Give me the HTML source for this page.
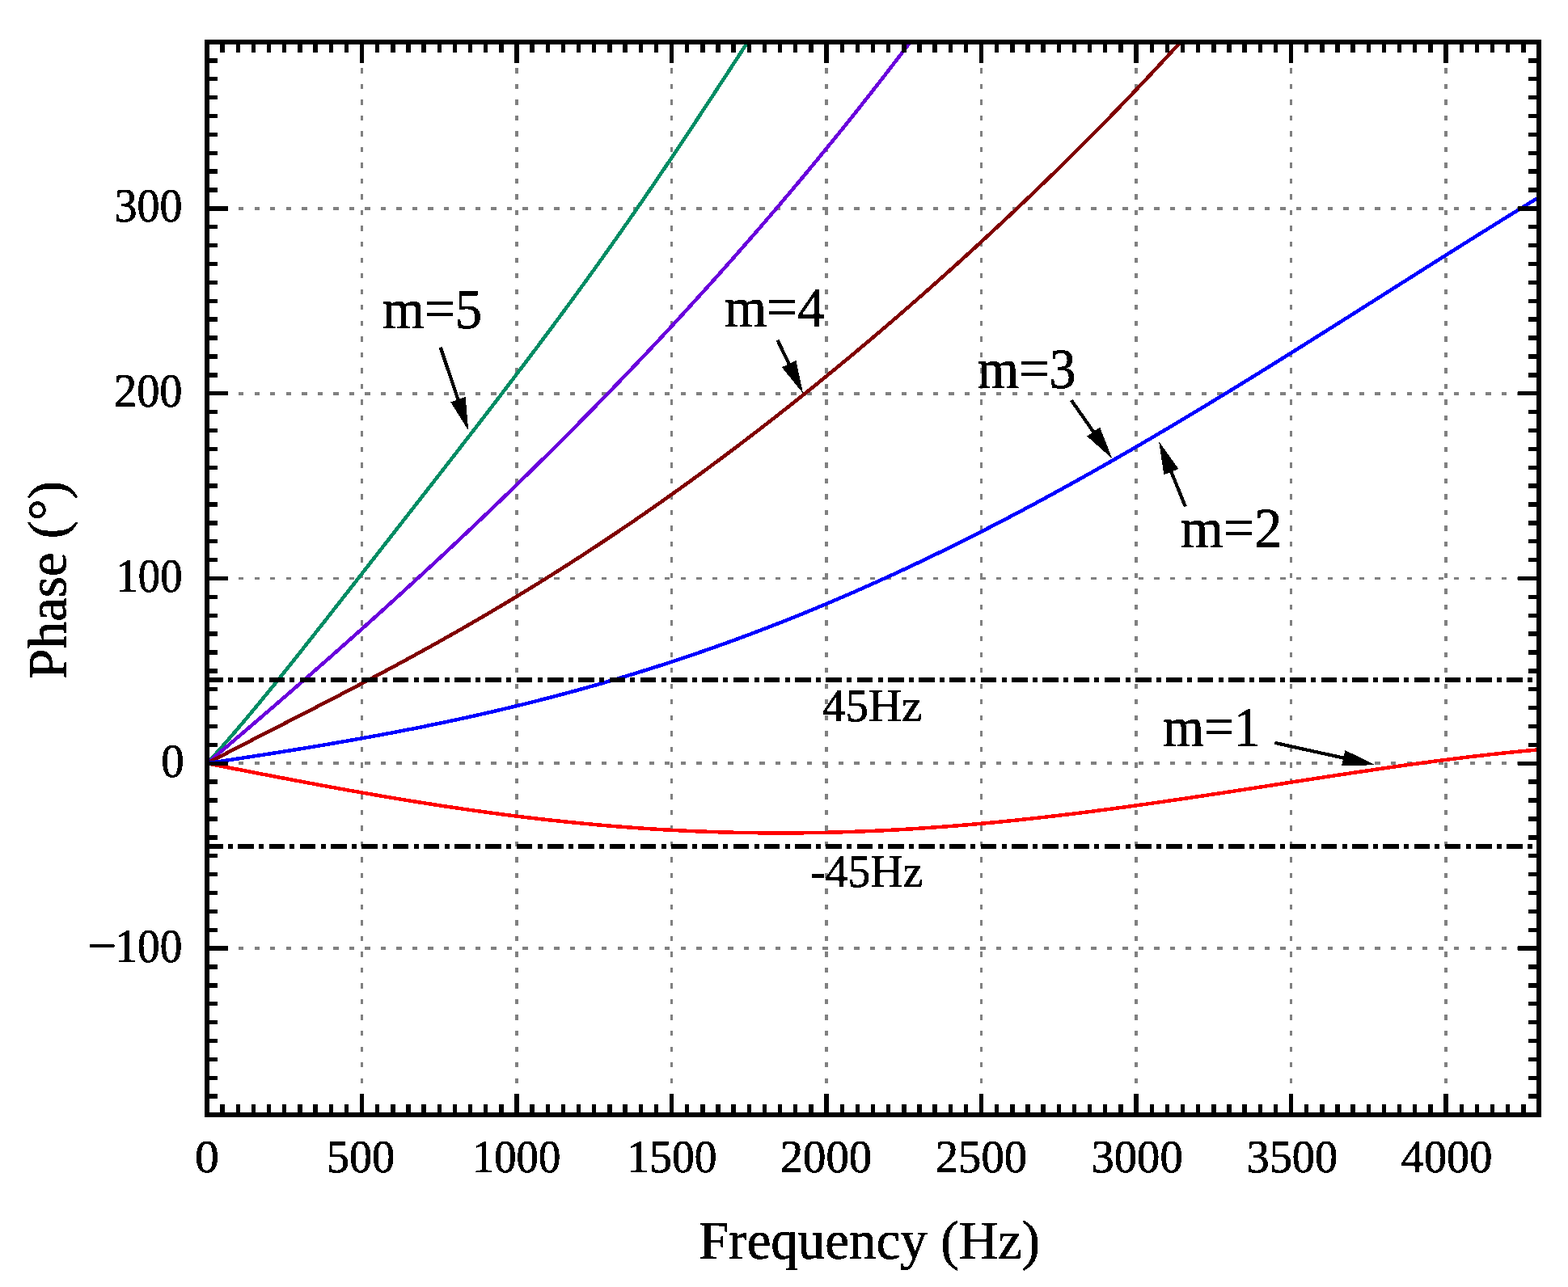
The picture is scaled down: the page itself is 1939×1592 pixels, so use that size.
<!DOCTYPE html>
<html><head><meta charset="utf-8"><title>Phase vs Frequency</title>
<style>
html,body{margin:0;padding:0;background:#fff;}
body{width:1939px;height:1592px;overflow:hidden;}
svg{display:block;}
text{font-family:"Liberation Serif","Times New Roman",serif;fill:#000;}
</style></head><body>
<svg width="1939" height="1592" viewBox="0 0 1939 1592">
<rect x="0" y="0" width="1939" height="1592" fill="#fff"/>
<defs><filter id="bin" filterUnits="userSpaceOnUse" x="0" y="0" width="1939" height="1592" color-interpolation-filters="sRGB"><feComponentTransfer><feFuncA type="discrete" tableValues="0 1"/></feComponentTransfer></filter><clipPath id="ax"><rect x="256.0" y="52.0" width="1647.0" height="1327.0"/></clipPath></defs>

<g stroke="#808080" stroke-width="3.8" stroke-dasharray="6.4 13.12" fill="none" shape-rendering="crispEdges">
<line x1="447.51" y1="1379.0" x2="447.51" y2="52.0"/>
<line x1="639.02" y1="1379.0" x2="639.02" y2="52.0"/>
<line x1="830.53" y1="1379.0" x2="830.53" y2="52.0"/>
<line x1="1022.05" y1="1379.0" x2="1022.05" y2="52.0"/>
<line x1="1213.56" y1="1379.0" x2="1213.56" y2="52.0"/>
<line x1="1405.07" y1="1379.0" x2="1405.07" y2="52.0"/>
<line x1="1596.58" y1="1379.0" x2="1596.58" y2="52.0"/>
<line x1="1788.09" y1="1379.0" x2="1788.09" y2="52.0"/>
<line x1="256.0" y1="1173.09" x2="1903.0" y2="1173.09"/>
<line x1="256.0" y1="944.29" x2="1903.0" y2="944.29"/>
<line x1="256.0" y1="715.50" x2="1903.0" y2="715.50"/>
<line x1="256.0" y1="486.71" x2="1903.0" y2="486.71"/>
<line x1="256.0" y1="257.91" x2="1903.0" y2="257.91"/>
</g>
<g clip-path="url(#ax)" fill="none" stroke-width="4.5" stroke-linejoin="round" shape-rendering="crispEdges">
<path d="M256.00,944.29 L258.75,941.30 L261.50,938.29 L264.25,935.26 L267.00,932.21 L269.75,929.14 L272.50,926.05 L275.25,922.94 L278.00,919.82 L280.75,916.68 L283.50,913.52 L286.25,910.35 L288.99,907.16 L291.74,903.96 L294.49,900.74 L297.24,897.51 L299.99,894.26 L302.74,891.01 L305.49,887.74 L308.24,884.45 L310.99,881.16 L313.74,877.85 L316.49,874.54 L319.24,871.21 L321.99,867.87 L324.74,864.53 L327.49,861.17 L330.24,857.81 L332.99,854.43 L335.74,851.05 L338.49,847.66 L341.24,844.26 L343.99,840.86 L346.74,837.45 L349.49,834.03 L352.24,830.61 L354.98,827.17 L357.73,823.74 L360.48,820.30 L363.23,816.85 L365.98,813.40 L368.73,809.94 L371.48,806.48 L374.23,803.01 L376.98,799.54 L379.73,796.06 L382.48,792.59 L385.23,789.10 L387.98,785.62 L390.73,782.13 L393.48,778.64 L396.23,775.15 L398.98,771.65 L401.73,768.15 L404.48,764.65 L407.23,761.15 L409.98,757.64 L412.73,754.14 L415.48,750.63 L418.23,747.12 L420.97,743.61 L423.72,740.10 L426.47,736.58 L429.22,733.07 L431.97,729.55 L434.72,726.04 L437.47,722.52 L440.22,719.00 L442.97,715.48 L445.72,711.96 L448.47,708.44 L451.22,704.92 L453.97,701.40 L456.72,697.88 L459.47,694.36 L462.22,690.84 L464.97,687.32 L467.72,683.79 L470.47,680.27 L473.22,676.75 L475.97,673.23 L478.72,669.70 L481.47,666.18 L484.22,662.66 L486.96,659.13 L489.71,655.61 L492.46,652.09 L495.21,648.56 L497.96,645.04 L500.71,641.52 L503.46,637.99 L506.21,634.47 L508.96,630.94 L511.71,627.42 L514.46,623.89 L517.21,620.37 L519.96,616.84 L522.71,613.31 L525.46,609.79 L528.21,606.26 L530.96,602.73 L533.71,599.20 L536.46,595.67 L539.21,592.14 L541.96,588.61 L544.71,585.08 L547.46,581.55 L550.21,578.01 L552.95,574.48 L555.70,570.94 L558.45,567.40 L561.20,563.86 L563.95,560.32 L566.70,556.78 L569.45,553.23 L572.20,549.69 L574.95,546.14 L577.70,542.59 L580.45,539.04 L583.20,535.48 L585.95,531.93 L588.70,528.37 L591.45,524.81 L594.20,521.24 L596.95,517.68 L599.70,514.11 L602.45,510.54 L605.20,506.96 L607.95,503.38 L610.70,499.80 L613.45,496.22 L616.20,492.63 L618.94,489.04 L621.69,485.45 L624.44,481.85 L627.19,478.25 L629.94,474.64 L632.69,471.03 L635.44,467.41 L638.19,463.80 L640.94,460.17 L643.69,456.55 L646.44,452.91 L649.19,449.28 L651.94,445.64 L654.69,441.99 L657.44,438.34 L660.19,434.68 L662.94,431.02 L665.69,427.35 L668.44,423.68 L671.19,420.00 L673.94,416.32 L676.69,412.63 L679.44,408.94 L682.19,405.24 L684.93,401.53 L687.68,397.82 L690.43,394.10 L693.18,390.37 L695.93,386.64 L698.68,382.90 L701.43,379.16 L704.18,375.41 L706.93,371.65 L709.68,367.89 L712.43,364.12 L715.18,360.34 L717.93,356.55 L720.68,352.76 L723.43,348.96 L726.18,345.15 L728.93,341.34 L731.68,337.52 L734.43,333.69 L737.18,329.85 L739.93,326.01 L742.68,322.16 L745.43,318.30 L748.18,314.44 L750.92,310.56 L753.67,306.68 L756.42,302.79 L759.17,298.90 L761.92,294.99 L764.67,291.08 L767.42,287.16 L770.17,283.23 L772.92,279.30 L775.67,275.35 L778.42,271.40 L781.17,267.45 L783.92,263.48 L786.67,259.51 L789.42,255.52 L792.17,251.53 L794.92,247.54 L797.67,243.53 L800.42,239.52 L803.17,235.50 L805.92,231.47 L808.67,227.44 L811.42,223.39 L814.17,219.35 L816.91,215.29 L819.66,211.22 L822.41,207.15 L825.16,203.07 L827.91,198.99 L830.66,194.90 L833.41,190.80 L836.16,186.69 L838.91,182.58 L841.66,178.46 L844.41,174.34 L847.16,170.21 L849.91,166.07 L852.66,161.93 L855.41,157.78 L858.16,153.62 L860.91,149.46 L863.66,145.30 L866.41,141.13 L869.16,136.95 L871.91,132.77 L874.66,128.59 L877.41,124.40 L880.16,120.21 L882.90,116.01 L885.65,111.81 L888.40,107.61 L891.15,103.40 L893.90,99.19 L896.65,94.98 L899.40,90.76 L902.15,86.54 L904.90,82.32 L907.65,78.10 L910.40,73.88 L913.15,69.66 L915.90,65.43 L918.65,61.21 L921.40,56.98 L924.15,52.76 L926.90,48.53 L929.65,44.31 L932.40,40.09" stroke="#008C64"/>
<path d="M256.00,944.29 L258.75,941.96 L261.50,939.63 L264.25,937.30 L267.00,934.97 L269.75,932.64 L272.50,930.30 L275.25,927.96 L278.00,925.63 L280.75,923.29 L283.50,920.95 L286.25,918.60 L288.99,916.26 L291.74,913.91 L294.49,911.57 L297.24,909.22 L299.99,906.87 L302.74,904.51 L305.49,902.16 L308.24,899.81 L310.99,897.45 L313.74,895.09 L316.49,892.73 L319.24,890.37 L321.99,888.00 L324.74,885.64 L327.49,883.27 L330.24,880.90 L332.99,878.53 L335.74,876.16 L338.49,873.78 L341.24,871.41 L343.99,869.03 L346.74,866.65 L349.49,864.27 L352.24,861.88 L354.98,859.50 L357.73,857.11 L360.48,854.72 L363.23,852.33 L365.98,849.93 L368.73,847.54 L371.48,845.14 L374.23,842.74 L376.98,840.34 L379.73,837.93 L382.48,835.53 L385.23,833.12 L387.98,830.71 L390.73,828.30 L393.48,825.88 L396.23,823.46 L398.98,821.05 L401.73,818.62 L404.48,816.20 L407.23,813.78 L409.98,811.35 L412.73,808.92 L415.48,806.48 L418.23,804.05 L420.97,801.61 L423.72,799.17 L426.47,796.73 L429.22,794.29 L431.97,791.84 L434.72,789.39 L437.47,786.94 L440.22,784.48 L442.97,782.03 L445.72,779.57 L448.47,777.11 L451.22,774.64 L453.97,772.18 L456.72,769.71 L459.47,767.24 L462.22,764.76 L464.97,762.29 L467.72,759.81 L470.47,757.33 L473.22,754.84 L475.97,752.35 L478.72,749.86 L481.47,747.37 L484.22,744.88 L486.96,742.38 L489.71,739.88 L492.46,737.37 L495.21,734.87 L497.96,732.36 L500.71,729.85 L503.46,727.33 L506.21,724.82 L508.96,722.30 L511.71,719.77 L514.46,717.25 L517.21,714.72 L519.96,712.19 L522.71,709.65 L525.46,707.11 L528.21,704.57 L530.96,702.03 L533.71,699.48 L536.46,696.93 L539.21,694.38 L541.96,691.83 L544.71,689.27 L547.46,686.71 L550.21,684.14 L552.95,681.57 L555.70,679.00 L558.45,676.43 L561.20,673.85 L563.95,671.27 L566.70,668.69 L569.45,666.10 L572.20,663.51 L574.95,660.92 L577.70,658.32 L580.45,655.72 L583.20,653.12 L585.95,650.52 L588.70,647.91 L591.45,645.29 L594.20,642.68 L596.95,640.06 L599.70,637.44 L602.45,634.81 L605.20,632.18 L607.95,629.55 L610.70,626.91 L613.45,624.27 L616.20,621.63 L618.94,618.98 L621.69,616.33 L624.44,613.68 L627.19,611.02 L629.94,608.36 L632.69,605.70 L635.44,603.03 L638.19,600.36 L640.94,597.68 L643.69,595.00 L646.44,592.32 L649.19,589.63 L651.94,586.94 L654.69,584.25 L657.44,581.55 L660.19,578.85 L662.94,576.15 L665.69,573.44 L668.44,570.73 L671.19,568.01 L673.94,565.29 L676.69,562.57 L679.44,559.84 L682.19,557.11 L684.93,554.37 L687.68,551.64 L690.43,548.89 L693.18,546.15 L695.93,543.39 L698.68,540.64 L701.43,537.88 L704.18,535.12 L706.93,532.35 L709.68,529.58 L712.43,526.81 L715.18,524.03 L717.93,521.24 L720.68,518.46 L723.43,515.67 L726.18,512.87 L728.93,510.07 L731.68,507.27 L734.43,504.46 L737.18,501.65 L739.93,498.83 L742.68,496.01 L745.43,493.18 L748.18,490.35 L750.92,487.52 L753.67,484.68 L756.42,481.84 L759.17,478.99 L761.92,476.14 L764.67,473.29 L767.42,470.43 L770.17,467.56 L772.92,464.70 L775.67,461.82 L778.42,458.94 L781.17,456.06 L783.92,453.18 L786.67,450.28 L789.42,447.39 L792.17,444.49 L794.92,441.58 L797.67,438.67 L800.42,435.76 L803.17,432.84 L805.92,429.92 L808.67,426.99 L811.42,424.06 L814.17,421.12 L816.91,418.17 L819.66,415.23 L822.41,412.28 L825.16,409.32 L827.91,406.36 L830.66,403.39 L833.41,400.42 L836.16,397.44 L838.91,394.46 L841.66,391.47 L844.41,388.48 L847.16,385.49 L849.91,382.48 L852.66,379.48 L855.41,376.47 L858.16,373.45 L860.91,370.43 L863.66,367.40 L866.41,364.37 L869.16,361.33 L871.91,358.29 L874.66,355.24 L877.41,352.19 L880.16,349.13 L882.90,346.07 L885.65,343.00 L888.40,339.93 L891.15,336.85 L893.90,333.76 L896.65,330.67 L899.40,327.58 L902.15,324.48 L904.90,321.37 L907.65,318.26 L910.40,315.14 L913.15,312.02 L915.90,308.89 L918.65,305.76 L921.40,302.62 L924.15,299.47 L926.90,296.32 L929.65,293.17 L932.40,290.00 L935.15,286.84 L937.90,283.66 L940.65,280.48 L943.40,277.30 L946.15,274.11 L948.89,270.91 L951.64,267.71 L954.39,264.50 L957.14,261.29 L959.89,258.07 L962.64,254.84 L965.39,251.61 L968.14,248.37 L970.89,245.13 L973.64,241.88 L976.39,238.62 L979.14,235.36 L981.89,232.09 L984.64,228.82 L987.39,225.54 L990.14,222.25 L992.89,218.96 L995.64,215.66 L998.39,212.35 L1001.14,209.04 L1003.89,205.72 L1006.64,202.40 L1009.39,199.07 L1012.14,195.73 L1014.88,192.39 L1017.63,189.04 L1020.38,185.68 L1023.13,182.32 L1025.88,178.95 L1028.63,175.57 L1031.38,172.19 L1034.13,168.80 L1036.88,165.40 L1039.63,162.00 L1042.38,158.59 L1045.13,155.17 L1047.88,151.75 L1050.63,148.32 L1053.38,144.88 L1056.13,141.44 L1058.88,137.99 L1061.63,134.53 L1064.38,131.07 L1067.13,127.59 L1069.88,124.12 L1072.63,120.63 L1075.38,117.14 L1078.13,113.64 L1080.87,110.13 L1083.62,106.62 L1086.37,103.10 L1089.12,99.57 L1091.87,96.03 L1094.62,92.49 L1097.37,88.94 L1100.12,85.38 L1102.87,81.82 L1105.62,78.25 L1108.37,74.67 L1111.12,71.08 L1113.87,67.49 L1116.62,63.89 L1119.37,60.28 L1122.12,56.66 L1124.87,53.03 L1127.62,49.40 L1130.37,45.76 L1133.12,42.11 L1135.87,38.46" stroke="#6A00DC"/>
<path d="M256.00,944.29 L258.75,942.85 L261.50,941.41 L264.25,939.97 L267.00,938.53 L269.75,937.09 L272.50,935.66 L275.25,934.23 L278.00,932.80 L280.75,931.37 L283.50,929.95 L286.25,928.52 L288.99,927.10 L291.74,925.68 L294.49,924.26 L297.24,922.84 L299.99,921.43 L302.74,920.01 L305.49,918.60 L308.24,917.18 L310.99,915.77 L313.74,914.36 L316.49,912.95 L319.24,911.54 L321.99,910.13 L324.74,908.72 L327.49,907.32 L330.24,905.91 L332.99,904.50 L335.74,903.09 L338.49,901.69 L341.24,900.28 L343.99,898.87 L346.74,897.47 L349.49,896.06 L352.24,894.66 L354.98,893.25 L357.73,891.84 L360.48,890.44 L363.23,889.03 L365.98,887.62 L368.73,886.21 L371.48,884.80 L374.23,883.39 L376.98,881.98 L379.73,880.57 L382.48,879.16 L385.23,877.75 L387.98,876.34 L390.73,874.92 L393.48,873.51 L396.23,872.09 L398.98,870.67 L401.73,869.26 L404.48,867.84 L407.23,866.41 L409.98,864.99 L412.73,863.57 L415.48,862.14 L418.23,860.72 L420.97,859.29 L423.72,857.86 L426.47,856.43 L429.22,855.00 L431.97,853.56 L434.72,852.12 L437.47,850.69 L440.22,849.25 L442.97,847.80 L445.72,846.36 L448.47,844.91 L451.22,843.47 L453.97,842.02 L456.72,840.56 L459.47,839.11 L462.22,837.65 L464.97,836.19 L467.72,834.73 L470.47,833.27 L473.22,831.80 L475.97,830.33 L478.72,828.86 L481.47,827.39 L484.22,825.91 L486.96,824.44 L489.71,822.96 L492.46,821.47 L495.21,819.99 L497.96,818.50 L500.71,817.00 L503.46,815.51 L506.21,814.01 L508.96,812.51 L511.71,811.01 L514.46,809.50 L517.21,807.99 L519.96,806.48 L522.71,804.97 L525.46,803.45 L528.21,801.93 L530.96,800.40 L533.71,798.88 L536.46,797.35 L539.21,795.81 L541.96,794.28 L544.71,792.74 L547.46,791.19 L550.21,789.65 L552.95,788.10 L555.70,786.54 L558.45,784.99 L561.20,783.43 L563.95,781.86 L566.70,780.30 L569.45,778.73 L572.20,777.15 L574.95,775.57 L577.70,773.99 L580.45,772.41 L583.20,770.82 L585.95,769.23 L588.70,767.63 L591.45,766.04 L594.20,764.43 L596.95,762.83 L599.70,761.22 L602.45,759.60 L605.20,757.99 L607.95,756.37 L610.70,754.74 L613.45,753.11 L616.20,751.48 L618.94,749.84 L621.69,748.20 L624.44,746.56 L627.19,744.91 L629.94,743.26 L632.69,741.61 L635.44,739.95 L638.19,738.28 L640.94,736.62 L643.69,734.94 L646.44,733.27 L649.19,731.59 L651.94,729.91 L654.69,728.22 L657.44,726.53 L660.19,724.83 L662.94,723.13 L665.69,721.43 L668.44,719.72 L671.19,718.01 L673.94,716.30 L676.69,714.58 L679.44,712.85 L682.19,711.13 L684.93,709.40 L687.68,707.66 L690.43,705.92 L693.18,704.18 L695.93,702.43 L698.68,700.68 L701.43,698.92 L704.18,697.16 L706.93,695.39 L709.68,693.62 L712.43,691.85 L715.18,690.07 L717.93,688.29 L720.68,686.51 L723.43,684.72 L726.18,682.92 L728.93,681.12 L731.68,679.32 L734.43,677.51 L737.18,675.70 L739.93,673.89 L742.68,672.07 L745.43,670.25 L748.18,668.42 L750.92,666.59 L753.67,664.75 L756.42,662.91 L759.17,661.06 L761.92,659.21 L764.67,657.36 L767.42,655.50 L770.17,653.64 L772.92,651.77 L775.67,649.90 L778.42,648.03 L781.17,646.15 L783.92,644.27 L786.67,642.38 L789.42,640.49 L792.17,638.59 L794.92,636.69 L797.67,634.79 L800.42,632.88 L803.17,630.97 L805.92,629.05 L808.67,627.13 L811.42,625.20 L814.17,623.27 L816.91,621.34 L819.66,619.40 L822.41,617.46 L825.16,615.51 L827.91,613.56 L830.66,611.60 L833.41,609.64 L836.16,607.68 L838.91,605.71 L841.66,603.74 L844.41,601.76 L847.16,599.78 L849.91,597.80 L852.66,595.81 L855.41,593.81 L858.16,591.81 L860.91,589.81 L863.66,587.81 L866.41,585.80 L869.16,583.78 L871.91,581.76 L874.66,579.74 L877.41,577.71 L880.16,575.68 L882.90,573.64 L885.65,571.60 L888.40,569.56 L891.15,567.51 L893.90,565.46 L896.65,563.40 L899.40,561.34 L902.15,559.28 L904.90,557.21 L907.65,555.13 L910.40,553.06 L913.15,550.98 L915.90,548.89 L918.65,546.80 L921.40,544.71 L924.15,542.61 L926.90,540.50 L929.65,538.40 L932.40,536.29 L935.15,534.17 L937.90,532.05 L940.65,529.93 L943.40,527.80 L946.15,525.67 L948.89,523.54 L951.64,521.40 L954.39,519.25 L957.14,517.11 L959.89,514.95 L962.64,512.80 L965.39,510.64 L968.14,508.48 L970.89,506.31 L973.64,504.13 L976.39,501.96 L979.14,499.78 L981.89,497.59 L984.64,495.41 L987.39,493.21 L990.14,491.02 L992.89,488.82 L995.64,486.61 L998.39,484.40 L1001.14,482.19 L1003.89,479.97 L1006.64,477.75 L1009.39,475.53 L1012.14,473.30 L1014.88,471.07 L1017.63,468.83 L1020.38,466.59 L1023.13,464.34 L1025.88,462.09 L1028.63,459.84 L1031.38,457.58 L1034.13,455.32 L1036.88,453.06 L1039.63,450.79 L1042.38,448.51 L1045.13,446.24 L1047.88,443.96 L1050.63,441.67 L1053.38,439.38 L1056.13,437.09 L1058.88,434.79 L1061.63,432.49 L1064.38,430.18 L1067.13,427.87 L1069.88,425.56 L1072.63,423.24 L1075.38,420.92 L1078.13,418.60 L1080.87,416.27 L1083.62,413.93 L1086.37,411.60 L1089.12,409.25 L1091.87,406.91 L1094.62,404.56 L1097.37,402.20 L1100.12,399.85 L1102.87,397.48 L1105.62,395.12 L1108.37,392.75 L1111.12,390.38 L1113.87,388.00 L1116.62,385.62 L1119.37,383.23 L1122.12,380.84 L1124.87,378.44 L1127.62,376.05 L1130.37,373.64 L1133.12,371.24 L1135.87,368.83 L1138.62,366.41 L1141.37,363.99 L1144.12,361.57 L1146.86,359.14 L1149.61,356.71 L1152.36,354.28 L1155.11,351.84 L1157.86,349.39 L1160.61,346.95 L1163.36,344.49 L1166.11,342.04 L1168.86,339.58 L1171.61,337.11 L1174.36,334.65 L1177.11,332.17 L1179.86,329.70 L1182.61,327.21 L1185.36,324.73 L1188.11,322.24 L1190.86,319.75 L1193.61,317.25 L1196.36,314.74 L1199.11,312.24 L1201.86,309.73 L1204.61,307.21 L1207.36,304.69 L1210.11,302.17 L1212.85,299.64 L1215.60,297.11 L1218.35,294.57 L1221.10,292.03 L1223.85,289.48 L1226.60,286.93 L1229.35,284.38 L1232.10,281.82 L1234.85,279.25 L1237.60,276.69 L1240.35,274.11 L1243.10,271.54 L1245.85,268.95 L1248.60,266.37 L1251.35,263.78 L1254.10,261.18 L1256.85,258.58 L1259.60,255.98 L1262.35,253.37 L1265.10,250.75 L1267.85,248.13 L1270.60,245.51 L1273.35,242.88 L1276.10,240.25 L1278.84,237.61 L1281.59,234.97 L1284.34,232.32 L1287.09,229.67 L1289.84,227.01 L1292.59,224.35 L1295.34,221.68 L1298.09,219.01 L1300.84,216.33 L1303.59,213.65 L1306.34,210.96 L1309.09,208.27 L1311.84,205.58 L1314.59,202.87 L1317.34,200.17 L1320.09,197.45 L1322.84,194.74 L1325.59,192.01 L1328.34,189.28 L1331.09,186.55 L1333.84,183.81 L1336.59,181.07 L1339.34,178.32 L1342.09,175.56 L1344.83,172.80 L1347.58,170.04 L1350.33,167.27 L1353.08,164.49 L1355.83,161.71 L1358.58,158.92 L1361.33,156.13 L1364.08,153.33 L1366.83,150.52 L1369.58,147.71 L1372.33,144.89 L1375.08,142.07 L1377.83,139.24 L1380.58,136.41 L1383.33,133.57 L1386.08,130.72 L1388.83,127.87 L1391.58,125.01 L1394.33,122.15 L1397.08,119.28 L1399.83,116.40 L1402.58,113.52 L1405.33,110.63 L1408.08,107.73 L1410.82,104.83 L1413.57,101.92 L1416.32,99.00 L1419.07,96.08 L1421.82,93.15 L1424.57,90.22 L1427.32,87.28 L1430.07,84.33 L1432.82,81.37 L1435.57,78.41 L1438.32,75.44 L1441.07,72.47 L1443.82,69.49 L1446.57,66.50 L1449.32,63.50 L1452.07,60.49 L1454.82,57.48 L1457.57,54.47 L1460.32,51.44 L1463.07,48.41 L1465.82,45.37 L1468.57,42.32 L1471.32,39.26" stroke="#800000"/>
<path d="M256.00,944.29 L258.75,943.88 L261.50,943.46 L264.25,943.05 L267.00,942.63 L269.75,942.21 L272.50,941.80 L275.25,941.38 L278.00,940.96 L280.75,940.55 L283.50,940.13 L286.25,939.71 L288.99,939.29 L291.74,938.87 L294.49,938.45 L297.24,938.02 L299.99,937.60 L302.74,937.18 L305.49,936.75 L308.24,936.33 L310.99,935.90 L313.74,935.48 L316.49,935.05 L319.24,934.62 L321.99,934.20 L324.74,933.77 L327.49,933.34 L330.24,932.90 L332.99,932.47 L335.74,932.04 L338.49,931.60 L341.24,931.17 L343.99,930.73 L346.74,930.29 L349.49,929.85 L352.24,929.41 L354.98,928.97 L357.73,928.53 L360.48,928.09 L363.23,927.64 L365.98,927.20 L368.73,926.75 L371.48,926.30 L374.23,925.85 L376.98,925.40 L379.73,924.94 L382.48,924.49 L385.23,924.04 L387.98,923.58 L390.73,923.12 L393.48,922.66 L396.23,922.20 L398.98,921.73 L401.73,921.27 L404.48,920.80 L407.23,920.34 L409.98,919.87 L412.73,919.40 L415.48,918.92 L418.23,918.45 L420.97,917.97 L423.72,917.49 L426.47,917.01 L429.22,916.53 L431.97,916.05 L434.72,915.56 L437.47,915.08 L440.22,914.59 L442.97,914.10 L445.72,913.61 L448.47,913.11 L451.22,912.62 L453.97,912.12 L456.72,911.62 L459.47,911.12 L462.22,910.61 L464.97,910.10 L467.72,909.60 L470.47,909.09 L473.22,908.57 L475.97,908.06 L478.72,907.54 L481.47,907.02 L484.22,906.50 L486.96,905.98 L489.71,905.45 L492.46,904.93 L495.21,904.40 L497.96,903.87 L500.71,903.33 L503.46,902.79 L506.21,902.26 L508.96,901.72 L511.71,901.17 L514.46,900.63 L517.21,900.08 L519.96,899.53 L522.71,898.97 L525.46,898.42 L528.21,897.86 L530.96,897.30 L533.71,896.74 L536.46,896.17 L539.21,895.61 L541.96,895.04 L544.71,894.46 L547.46,893.89 L550.21,893.31 L552.95,892.73 L555.70,892.15 L558.45,891.56 L561.20,890.97 L563.95,890.38 L566.70,889.79 L569.45,889.19 L572.20,888.59 L574.95,887.99 L577.70,887.39 L580.45,886.78 L583.20,886.17 L585.95,885.56 L588.70,884.94 L591.45,884.33 L594.20,883.70 L596.95,883.08 L599.70,882.45 L602.45,881.83 L605.20,881.19 L607.95,880.56 L610.70,879.92 L613.45,879.28 L616.20,878.64 L618.94,877.99 L621.69,877.34 L624.44,876.69 L627.19,876.03 L629.94,875.37 L632.69,874.71 L635.44,874.05 L638.19,873.38 L640.94,872.71 L643.69,872.04 L646.44,871.36 L649.19,870.68 L651.94,870.00 L654.69,869.31 L657.44,868.62 L660.19,867.93 L662.94,867.24 L665.69,866.54 L668.44,865.84 L671.19,865.13 L673.94,864.43 L676.69,863.72 L679.44,863.00 L682.19,862.29 L684.93,861.57 L687.68,860.84 L690.43,860.12 L693.18,859.39 L695.93,858.65 L698.68,857.92 L701.43,857.18 L704.18,856.44 L706.93,855.69 L709.68,854.94 L712.43,854.19 L715.18,853.43 L717.93,852.67 L720.68,851.91 L723.43,851.14 L726.18,850.38 L728.93,849.60 L731.68,848.83 L734.43,848.05 L737.18,847.27 L739.93,846.48 L742.68,845.69 L745.43,844.90 L748.18,844.10 L750.92,843.30 L753.67,842.50 L756.42,841.69 L759.17,840.88 L761.92,840.07 L764.67,839.25 L767.42,838.43 L770.17,837.61 L772.92,836.78 L775.67,835.95 L778.42,835.12 L781.17,834.28 L783.92,833.44 L786.67,832.59 L789.42,831.75 L792.17,830.90 L794.92,830.04 L797.67,829.18 L800.42,828.32 L803.17,827.45 L805.92,826.58 L808.67,825.71 L811.42,824.84 L814.17,823.96 L816.91,823.07 L819.66,822.19 L822.41,821.30 L825.16,820.40 L827.91,819.50 L830.66,818.60 L833.41,817.70 L836.16,816.79 L838.91,815.88 L841.66,814.96 L844.41,814.04 L847.16,813.12 L849.91,812.19 L852.66,811.26 L855.41,810.33 L858.16,809.39 L860.91,808.45 L863.66,807.51 L866.41,806.56 L869.16,805.61 L871.91,804.65 L874.66,803.69 L877.41,802.73 L880.16,801.76 L882.90,800.79 L885.65,799.82 L888.40,798.84 L891.15,797.86 L893.90,796.88 L896.65,795.89 L899.40,794.89 L902.15,793.90 L904.90,792.90 L907.65,791.90 L910.40,790.89 L913.15,789.88 L915.90,788.86 L918.65,787.85 L921.40,786.83 L924.15,785.80 L926.90,784.77 L929.65,783.74 L932.40,782.70 L935.15,781.66 L937.90,780.62 L940.65,779.57 L943.40,778.52 L946.15,777.47 L948.89,776.41 L951.64,775.35 L954.39,774.28 L957.14,773.21 L959.89,772.14 L962.64,771.06 L965.39,769.98 L968.14,768.90 L970.89,767.81 L973.64,766.72 L976.39,765.62 L979.14,764.52 L981.89,763.42 L984.64,762.31 L987.39,761.20 L990.14,760.09 L992.89,758.97 L995.64,757.85 L998.39,756.72 L1001.14,755.60 L1003.89,754.46 L1006.64,753.33 L1009.39,752.19 L1012.14,751.05 L1014.88,749.90 L1017.63,748.75 L1020.38,747.59 L1023.13,746.44 L1025.88,745.28 L1028.63,744.11 L1031.38,742.94 L1034.13,741.77 L1036.88,740.59 L1039.63,739.41 L1042.38,738.23 L1045.13,737.04 L1047.88,735.85 L1050.63,734.66 L1053.38,733.46 L1056.13,732.26 L1058.88,731.05 L1061.63,729.84 L1064.38,728.63 L1067.13,727.42 L1069.88,726.20 L1072.63,724.97 L1075.38,723.75 L1078.13,722.52 L1080.87,721.28 L1083.62,720.04 L1086.37,718.80 L1089.12,717.56 L1091.87,716.31 L1094.62,715.06 L1097.37,713.80 L1100.12,712.54 L1102.87,711.28 L1105.62,710.02 L1108.37,708.75 L1111.12,707.47 L1113.87,706.20 L1116.62,704.92 L1119.37,703.63 L1122.12,702.35 L1124.87,701.05 L1127.62,699.76 L1130.37,698.46 L1133.12,697.16 L1135.87,695.86 L1138.62,694.55 L1141.37,693.24 L1144.12,691.92 L1146.86,690.60 L1149.61,689.28 L1152.36,687.96 L1155.11,686.63 L1157.86,685.30 L1160.61,683.96 L1163.36,682.62 L1166.11,681.28 L1168.86,679.93 L1171.61,678.58 L1174.36,677.23 L1177.11,675.88 L1179.86,674.52 L1182.61,673.15 L1185.36,671.79 L1188.11,670.42 L1190.86,669.05 L1193.61,667.67 L1196.36,666.29 L1199.11,664.91 L1201.86,663.52 L1204.61,662.13 L1207.36,660.74 L1210.11,659.35 L1212.85,657.95 L1215.60,656.54 L1218.35,655.14 L1221.10,653.73 L1223.85,652.32 L1226.60,650.90 L1229.35,649.49 L1232.10,648.06 L1234.85,646.64 L1237.60,645.21 L1240.35,643.78 L1243.10,642.35 L1245.85,640.91 L1248.60,639.47 L1251.35,638.03 L1254.10,636.58 L1256.85,635.13 L1259.60,633.68 L1262.35,632.22 L1265.10,630.76 L1267.85,629.30 L1270.60,627.84 L1273.35,626.37 L1276.10,624.90 L1278.84,623.42 L1281.59,621.95 L1284.34,620.47 L1287.09,618.98 L1289.84,617.50 L1292.59,616.01 L1295.34,614.52 L1298.09,613.02 L1300.84,611.52 L1303.59,610.02 L1306.34,608.52 L1309.09,607.01 L1311.84,605.50 L1314.59,603.99 L1317.34,602.48 L1320.09,600.96 L1322.84,599.44 L1325.59,597.92 L1328.34,596.39 L1331.09,594.86 L1333.84,593.33 L1336.59,591.79 L1339.34,590.26 L1342.09,588.72 L1344.83,587.18 L1347.58,585.63 L1350.33,584.08 L1353.08,582.53 L1355.83,580.98 L1358.58,579.42 L1361.33,577.86 L1364.08,576.30 L1366.83,574.74 L1369.58,573.17 L1372.33,571.60 L1375.08,570.03 L1377.83,568.46 L1380.58,566.88 L1383.33,565.30 L1386.08,563.72 L1388.83,562.14 L1391.58,560.55 L1394.33,558.96 L1397.08,557.37 L1399.83,555.78 L1402.58,554.18 L1405.33,552.59 L1408.08,550.98 L1410.82,549.38 L1413.57,547.78 L1416.32,546.17 L1419.07,544.56 L1421.82,542.95 L1424.57,541.33 L1427.32,539.71 L1430.07,538.10 L1432.82,536.47 L1435.57,534.85 L1438.32,533.23 L1441.07,531.60 L1443.82,529.97 L1446.57,528.34 L1449.32,526.70 L1452.07,525.07 L1454.82,523.43 L1457.57,521.79 L1460.32,520.14 L1463.07,518.50 L1465.82,516.85 L1468.57,515.20 L1471.32,513.55 L1474.07,511.90 L1476.81,510.25 L1479.56,508.59 L1482.31,506.93 L1485.06,505.27 L1487.81,503.61 L1490.56,501.95 L1493.31,500.28 L1496.06,498.61 L1498.81,496.95 L1501.56,495.27 L1504.31,493.60 L1507.06,491.93 L1509.81,490.25 L1512.56,488.57 L1515.31,486.89 L1518.06,485.21 L1520.81,483.53 L1523.56,481.85 L1526.31,480.16 L1529.06,478.47 L1531.81,476.78 L1534.56,475.09 L1537.31,473.40 L1540.06,471.71 L1542.80,470.01 L1545.55,468.31 L1548.30,466.62 L1551.05,464.92 L1553.80,463.22 L1556.55,461.51 L1559.30,459.81 L1562.05,458.10 L1564.80,456.40 L1567.55,454.69 L1570.30,452.98 L1573.05,451.27 L1575.80,449.56 L1578.55,447.85 L1581.30,446.13 L1584.05,444.42 L1586.80,442.70 L1589.55,440.99 L1592.30,439.27 L1595.05,437.55 L1597.80,435.83 L1600.55,434.11 L1603.30,432.38 L1606.05,430.66 L1608.79,428.94 L1611.54,427.21 L1614.29,425.49 L1617.04,423.76 L1619.79,422.03 L1622.54,420.30 L1625.29,418.57 L1628.04,416.84 L1630.79,415.11 L1633.54,413.38 L1636.29,411.65 L1639.04,409.91 L1641.79,408.18 L1644.54,406.44 L1647.29,404.71 L1650.04,402.97 L1652.79,401.24 L1655.54,399.50 L1658.29,397.76 L1661.04,396.02 L1663.79,394.28 L1666.54,392.54 L1669.29,390.80 L1672.04,389.06 L1674.78,387.32 L1677.53,385.58 L1680.28,383.84 L1683.03,382.10 L1685.78,380.36 L1688.53,378.62 L1691.28,376.87 L1694.03,375.13 L1696.78,373.39 L1699.53,371.65 L1702.28,369.90 L1705.03,368.16 L1707.78,366.42 L1710.53,364.67 L1713.28,362.93 L1716.03,361.18 L1718.78,359.44 L1721.53,357.70 L1724.28,355.95 L1727.03,354.21 L1729.78,352.47 L1732.53,350.72 L1735.28,348.98 L1738.03,347.24 L1740.77,345.50 L1743.52,343.75 L1746.27,342.01 L1749.02,340.27 L1751.77,338.53 L1754.52,336.79 L1757.27,335.05 L1760.02,333.31 L1762.77,331.57 L1765.52,329.83 L1768.27,328.09 L1771.02,326.35 L1773.77,324.61 L1776.52,322.87 L1779.27,321.14 L1782.02,319.40 L1784.77,317.66 L1787.52,315.93 L1790.27,314.19 L1793.02,312.46 L1795.77,310.73 L1798.52,309.00 L1801.27,307.26 L1804.02,305.53 L1806.76,303.81 L1809.51,302.08 L1812.26,300.35 L1815.01,298.62 L1817.76,296.90 L1820.51,295.17 L1823.26,293.45 L1826.01,291.73 L1828.76,290.00 L1831.51,288.28 L1834.26,286.56 L1837.01,284.85 L1839.76,283.13 L1842.51,281.41 L1845.26,279.70 L1848.01,277.99 L1850.76,276.28 L1853.51,274.57 L1856.26,272.86 L1859.01,271.15 L1861.76,269.44 L1864.51,267.74 L1867.26,266.04 L1870.01,264.33 L1872.75,262.63 L1875.50,260.94 L1878.25,259.24 L1881.00,257.54 L1883.75,255.85 L1886.50,254.16 L1889.25,252.47 L1892.00,250.78 L1894.75,249.10 L1897.50,247.41 L1900.25,245.73 L1903.00,244.05" stroke="#0000FF"/>
<path d="M256.00,944.29 L258.75,944.83 L261.50,945.37 L264.25,945.90 L267.00,946.44 L269.75,946.97 L272.50,947.51 L275.25,948.05 L278.00,948.58 L280.75,949.12 L283.50,949.65 L286.25,950.19 L288.99,950.73 L291.74,951.26 L294.49,951.80 L297.24,952.33 L299.99,952.86 L302.74,953.40 L305.49,953.93 L308.24,954.47 L310.99,955.00 L313.74,955.53 L316.49,956.06 L319.24,956.60 L321.99,957.13 L324.74,957.66 L327.49,958.19 L330.24,958.72 L332.99,959.25 L335.74,959.77 L338.49,960.30 L341.24,960.83 L343.99,961.35 L346.74,961.88 L349.49,962.40 L352.24,962.93 L354.98,963.45 L357.73,963.97 L360.48,964.50 L363.23,965.02 L365.98,965.54 L368.73,966.06 L371.48,966.57 L374.23,967.09 L376.98,967.61 L379.73,968.12 L382.48,968.64 L385.23,969.15 L387.98,969.66 L390.73,970.17 L393.48,970.68 L396.23,971.19 L398.98,971.70 L401.73,972.21 L404.48,972.71 L407.23,973.22 L409.98,973.72 L412.73,974.22 L415.48,974.72 L418.23,975.22 L420.97,975.72 L423.72,976.22 L426.47,976.71 L429.22,977.21 L431.97,977.70 L434.72,978.19 L437.47,978.68 L440.22,979.17 L442.97,979.66 L445.72,980.14 L448.47,980.63 L451.22,981.11 L453.97,981.59 L456.72,982.07 L459.47,982.55 L462.22,983.03 L464.97,983.50 L467.72,983.97 L470.47,984.45 L473.22,984.92 L475.97,985.39 L478.72,985.85 L481.47,986.32 L484.22,986.78 L486.96,987.24 L489.71,987.70 L492.46,988.16 L495.21,988.62 L497.96,989.07 L500.71,989.52 L503.46,989.97 L506.21,990.42 L508.96,990.87 L511.71,991.32 L514.46,991.76 L517.21,992.20 L519.96,992.64 L522.71,993.08 L525.46,993.51 L528.21,993.95 L530.96,994.38 L533.71,994.81 L536.46,995.24 L539.21,995.66 L541.96,996.09 L544.71,996.51 L547.46,996.93 L550.21,997.34 L552.95,997.76 L555.70,998.17 L558.45,998.58 L561.20,998.99 L563.95,999.40 L566.70,999.80 L569.45,1000.21 L572.20,1000.61 L574.95,1001.00 L577.70,1001.40 L580.45,1001.79 L583.20,1002.18 L585.95,1002.57 L588.70,1002.96 L591.45,1003.34 L594.20,1003.73 L596.95,1004.11 L599.70,1004.48 L602.45,1004.86 L605.20,1005.23 L607.95,1005.60 L610.70,1005.97 L613.45,1006.33 L616.20,1006.70 L618.94,1007.06 L621.69,1007.42 L624.44,1007.77 L627.19,1008.13 L629.94,1008.48 L632.69,1008.82 L635.44,1009.17 L638.19,1009.51 L640.94,1009.85 L643.69,1010.19 L646.44,1010.53 L649.19,1010.86 L651.94,1011.19 L654.69,1011.52 L657.44,1011.85 L660.19,1012.17 L662.94,1012.49 L665.69,1012.81 L668.44,1013.12 L671.19,1013.44 L673.94,1013.75 L676.69,1014.05 L679.44,1014.36 L682.19,1014.66 L684.93,1014.96 L687.68,1015.26 L690.43,1015.55 L693.18,1015.84 L695.93,1016.13 L698.68,1016.42 L701.43,1016.70 L704.18,1016.98 L706.93,1017.26 L709.68,1017.54 L712.43,1017.81 L715.18,1018.08 L717.93,1018.34 L720.68,1018.61 L723.43,1018.87 L726.18,1019.13 L728.93,1019.38 L731.68,1019.64 L734.43,1019.89 L737.18,1020.14 L739.93,1020.38 L742.68,1020.62 L745.43,1020.86 L748.18,1021.10 L750.92,1021.33 L753.67,1021.56 L756.42,1021.79 L759.17,1022.01 L761.92,1022.23 L764.67,1022.45 L767.42,1022.67 L770.17,1022.88 L772.92,1023.09 L775.67,1023.30 L778.42,1023.50 L781.17,1023.71 L783.92,1023.90 L786.67,1024.10 L789.42,1024.29 L792.17,1024.48 L794.92,1024.67 L797.67,1024.85 L800.42,1025.04 L803.17,1025.21 L805.92,1025.39 L808.67,1025.56 L811.42,1025.73 L814.17,1025.90 L816.91,1026.06 L819.66,1026.22 L822.41,1026.38 L825.16,1026.53 L827.91,1026.68 L830.66,1026.83 L833.41,1026.98 L836.16,1027.12 L838.91,1027.26 L841.66,1027.40 L844.41,1027.53 L847.16,1027.66 L849.91,1027.79 L852.66,1027.91 L855.41,1028.04 L858.16,1028.15 L860.91,1028.27 L863.66,1028.38 L866.41,1028.49 L869.16,1028.60 L871.91,1028.70 L874.66,1028.80 L877.41,1028.90 L880.16,1029.00 L882.90,1029.09 L885.65,1029.18 L888.40,1029.26 L891.15,1029.34 L893.90,1029.42 L896.65,1029.50 L899.40,1029.57 L902.15,1029.64 L904.90,1029.71 L907.65,1029.78 L910.40,1029.84 L913.15,1029.89 L915.90,1029.95 L918.65,1030.00 L921.40,1030.05 L924.15,1030.10 L926.90,1030.14 L929.65,1030.18 L932.40,1030.22 L935.15,1030.25 L937.90,1030.28 L940.65,1030.31 L943.40,1030.34 L946.15,1030.36 L948.89,1030.38 L951.64,1030.39 L954.39,1030.41 L957.14,1030.42 L959.89,1030.43 L962.64,1030.43 L965.39,1030.43 L968.14,1030.43 L970.89,1030.42 L973.64,1030.42 L976.39,1030.40 L979.14,1030.39 L981.89,1030.37 L984.64,1030.35 L987.39,1030.33 L990.14,1030.31 L992.89,1030.28 L995.64,1030.25 L998.39,1030.21 L1001.14,1030.17 L1003.89,1030.13 L1006.64,1030.09 L1009.39,1030.04 L1012.14,1029.99 L1014.88,1029.94 L1017.63,1029.89 L1020.38,1029.83 L1023.13,1029.77 L1025.88,1029.70 L1028.63,1029.63 L1031.38,1029.56 L1034.13,1029.49 L1036.88,1029.42 L1039.63,1029.34 L1042.38,1029.26 L1045.13,1029.17 L1047.88,1029.08 L1050.63,1028.99 L1053.38,1028.90 L1056.13,1028.80 L1058.88,1028.71 L1061.63,1028.60 L1064.38,1028.50 L1067.13,1028.39 L1069.88,1028.28 L1072.63,1028.17 L1075.38,1028.05 L1078.13,1027.93 L1080.87,1027.81 L1083.62,1027.69 L1086.37,1027.56 L1089.12,1027.43 L1091.87,1027.30 L1094.62,1027.16 L1097.37,1027.02 L1100.12,1026.88 L1102.87,1026.74 L1105.62,1026.59 L1108.37,1026.44 L1111.12,1026.29 L1113.87,1026.14 L1116.62,1025.98 L1119.37,1025.82 L1122.12,1025.65 L1124.87,1025.49 L1127.62,1025.32 L1130.37,1025.15 L1133.12,1024.98 L1135.87,1024.80 L1138.62,1024.62 L1141.37,1024.44 L1144.12,1024.25 L1146.86,1024.07 L1149.61,1023.88 L1152.36,1023.69 L1155.11,1023.49 L1157.86,1023.29 L1160.61,1023.09 L1163.36,1022.89 L1166.11,1022.69 L1168.86,1022.48 L1171.61,1022.27 L1174.36,1022.05 L1177.11,1021.84 L1179.86,1021.62 L1182.61,1021.40 L1185.36,1021.18 L1188.11,1020.95 L1190.86,1020.72 L1193.61,1020.49 L1196.36,1020.26 L1199.11,1020.03 L1201.86,1019.79 L1204.61,1019.55 L1207.36,1019.31 L1210.11,1019.06 L1212.85,1018.81 L1215.60,1018.56 L1218.35,1018.31 L1221.10,1018.06 L1223.85,1017.80 L1226.60,1017.54 L1229.35,1017.28 L1232.10,1017.02 L1234.85,1016.75 L1237.60,1016.48 L1240.35,1016.21 L1243.10,1015.94 L1245.85,1015.66 L1248.60,1015.39 L1251.35,1015.11 L1254.10,1014.83 L1256.85,1014.54 L1259.60,1014.26 L1262.35,1013.97 L1265.10,1013.68 L1267.85,1013.39 L1270.60,1013.09 L1273.35,1012.79 L1276.10,1012.49 L1278.84,1012.19 L1281.59,1011.89 L1284.34,1011.59 L1287.09,1011.28 L1289.84,1010.97 L1292.59,1010.66 L1295.34,1010.34 L1298.09,1010.03 L1300.84,1009.71 L1303.59,1009.39 L1306.34,1009.07 L1309.09,1008.75 L1311.84,1008.42 L1314.59,1008.10 L1317.34,1007.77 L1320.09,1007.44 L1322.84,1007.10 L1325.59,1006.77 L1328.34,1006.43 L1331.09,1006.10 L1333.84,1005.76 L1336.59,1005.42 L1339.34,1005.07 L1342.09,1004.73 L1344.83,1004.38 L1347.58,1004.03 L1350.33,1003.68 L1353.08,1003.33 L1355.83,1002.98 L1358.58,1002.62 L1361.33,1002.26 L1364.08,1001.90 L1366.83,1001.54 L1369.58,1001.18 L1372.33,1000.82 L1375.08,1000.45 L1377.83,1000.09 L1380.58,999.72 L1383.33,999.35 L1386.08,998.98 L1388.83,998.61 L1391.58,998.23 L1394.33,997.86 L1397.08,997.48 L1399.83,997.10 L1402.58,996.72 L1405.33,996.34 L1408.08,995.96 L1410.82,995.58 L1413.57,995.19 L1416.32,994.81 L1419.07,994.42 L1421.82,994.03 L1424.57,993.64 L1427.32,993.25 L1430.07,992.86 L1432.82,992.47 L1435.57,992.07 L1438.32,991.68 L1441.07,991.28 L1443.82,990.88 L1446.57,990.48 L1449.32,990.08 L1452.07,989.68 L1454.82,989.28 L1457.57,988.88 L1460.32,988.47 L1463.07,988.07 L1465.82,987.66 L1468.57,987.25 L1471.32,986.85 L1474.07,986.44 L1476.81,986.03 L1479.56,985.62 L1482.31,985.21 L1485.06,984.79 L1487.81,984.38 L1490.56,983.97 L1493.31,983.55 L1496.06,983.14 L1498.81,982.72 L1501.56,982.31 L1504.31,981.89 L1507.06,981.47 L1509.81,981.05 L1512.56,980.64 L1515.31,980.22 L1518.06,979.80 L1520.81,979.38 L1523.56,978.95 L1526.31,978.53 L1529.06,978.11 L1531.81,977.69 L1534.56,977.27 L1537.31,976.84 L1540.06,976.42 L1542.80,976.00 L1545.55,975.57 L1548.30,975.15 L1551.05,974.72 L1553.80,974.30 L1556.55,973.87 L1559.30,973.45 L1562.05,973.02 L1564.80,972.60 L1567.55,972.17 L1570.30,971.75 L1573.05,971.32 L1575.80,970.89 L1578.55,970.47 L1581.30,970.04 L1584.05,969.62 L1586.80,969.19 L1589.55,968.76 L1592.30,968.34 L1595.05,967.91 L1597.80,967.49 L1600.55,967.06 L1603.30,966.63 L1606.05,966.21 L1608.79,965.78 L1611.54,965.36 L1614.29,964.94 L1617.04,964.51 L1619.79,964.09 L1622.54,963.66 L1625.29,963.24 L1628.04,962.82 L1630.79,962.40 L1633.54,961.98 L1636.29,961.55 L1639.04,961.13 L1641.79,960.71 L1644.54,960.29 L1647.29,959.87 L1650.04,959.46 L1652.79,959.04 L1655.54,958.62 L1658.29,958.21 L1661.04,957.79 L1663.79,957.37 L1666.54,956.96 L1669.29,956.55 L1672.04,956.13 L1674.78,955.72 L1677.53,955.31 L1680.28,954.90 L1683.03,954.49 L1685.78,954.08 L1688.53,953.68 L1691.28,953.27 L1694.03,952.87 L1696.78,952.46 L1699.53,952.06 L1702.28,951.66 L1705.03,951.26 L1707.78,950.86 L1710.53,950.46 L1713.28,950.06 L1716.03,949.67 L1718.78,949.27 L1721.53,948.88 L1724.28,948.49 L1727.03,948.10 L1729.78,947.71 L1732.53,947.32 L1735.28,946.94 L1738.03,946.55 L1740.77,946.17 L1743.52,945.79 L1746.27,945.41 L1749.02,945.03 L1751.77,944.65 L1754.52,944.28 L1757.27,943.91 L1760.02,943.53 L1762.77,943.16 L1765.52,942.80 L1768.27,942.43 L1771.02,942.07 L1773.77,941.70 L1776.52,941.34 L1779.27,940.99 L1782.02,940.63 L1784.77,940.27 L1787.52,939.92 L1790.27,939.57 L1793.02,939.22 L1795.77,938.88 L1798.52,938.53 L1801.27,938.19 L1804.02,937.85 L1806.76,937.51 L1809.51,937.18 L1812.26,936.85 L1815.01,936.52 L1817.76,936.19 L1820.51,935.86 L1823.26,935.54 L1826.01,935.22 L1828.76,934.90 L1831.51,934.58 L1834.26,934.27 L1837.01,933.96 L1839.76,933.65 L1842.51,933.35 L1845.26,933.05 L1848.01,932.75 L1850.76,932.45 L1853.51,932.15 L1856.26,931.86 L1859.01,931.57 L1861.76,931.29 L1864.51,931.01 L1867.26,930.73 L1870.01,930.45 L1872.75,930.18 L1875.50,929.90 L1878.25,929.64 L1881.00,929.37 L1883.75,929.11 L1886.50,928.85 L1889.25,928.60 L1892.00,928.35 L1894.75,928.10 L1897.50,927.85 L1900.25,927.61 L1903.00,927.37" stroke="#FF0000"/>
</g>
<g stroke="#000" stroke-width="6" stroke-dasharray="19.6 6.33 6 6.34" fill="none" shape-rendering="crispEdges">
<line x1="256.0" y1="841.34" x2="1903.0" y2="841.34"/>
<line x1="256.0" y1="1047.25" x2="1903.0" y2="1047.25"/>
</g>
<g stroke="#000" fill="none" shape-rendering="crispEdges">
<path stroke-width="5.4" d="M275.15,1379.0 V1366.0 M275.15,52.0 V65.0"/>
<path stroke-width="5.4" d="M294.30,1379.0 V1366.0 M294.30,52.0 V65.0"/>
<path stroke-width="5.4" d="M313.45,1379.0 V1366.0 M313.45,52.0 V65.0"/>
<path stroke-width="5.4" d="M332.60,1379.0 V1366.0 M332.60,52.0 V65.0"/>
<path stroke-width="5.4" d="M351.76,1379.0 V1366.0 M351.76,52.0 V65.0"/>
<path stroke-width="5.4" d="M370.91,1379.0 V1366.0 M370.91,52.0 V65.0"/>
<path stroke-width="5.4" d="M390.06,1379.0 V1366.0 M390.06,52.0 V65.0"/>
<path stroke-width="5.4" d="M409.21,1379.0 V1366.0 M409.21,52.0 V65.0"/>
<path stroke-width="5.4" d="M428.36,1379.0 V1366.0 M428.36,52.0 V65.0"/>
<path stroke-width="5.4" d="M447.51,1379.0 V1353.0 M447.51,52.0 V78.0"/>
<path stroke-width="5.4" d="M466.66,1379.0 V1366.0 M466.66,52.0 V65.0"/>
<path stroke-width="5.4" d="M485.81,1379.0 V1366.0 M485.81,52.0 V65.0"/>
<path stroke-width="5.4" d="M504.97,1379.0 V1366.0 M504.97,52.0 V65.0"/>
<path stroke-width="5.4" d="M524.12,1379.0 V1366.0 M524.12,52.0 V65.0"/>
<path stroke-width="5.4" d="M543.27,1379.0 V1366.0 M543.27,52.0 V65.0"/>
<path stroke-width="5.4" d="M562.42,1379.0 V1366.0 M562.42,52.0 V65.0"/>
<path stroke-width="5.4" d="M581.57,1379.0 V1366.0 M581.57,52.0 V65.0"/>
<path stroke-width="5.4" d="M600.72,1379.0 V1366.0 M600.72,52.0 V65.0"/>
<path stroke-width="5.4" d="M619.87,1379.0 V1366.0 M619.87,52.0 V65.0"/>
<path stroke-width="5.4" d="M639.02,1379.0 V1353.0 M639.02,52.0 V78.0"/>
<path stroke-width="5.4" d="M658.17,1379.0 V1366.0 M658.17,52.0 V65.0"/>
<path stroke-width="5.4" d="M677.33,1379.0 V1366.0 M677.33,52.0 V65.0"/>
<path stroke-width="5.4" d="M696.48,1379.0 V1366.0 M696.48,52.0 V65.0"/>
<path stroke-width="5.4" d="M715.63,1379.0 V1366.0 M715.63,52.0 V65.0"/>
<path stroke-width="5.4" d="M734.78,1379.0 V1366.0 M734.78,52.0 V65.0"/>
<path stroke-width="5.4" d="M753.93,1379.0 V1366.0 M753.93,52.0 V65.0"/>
<path stroke-width="5.4" d="M773.08,1379.0 V1366.0 M773.08,52.0 V65.0"/>
<path stroke-width="5.4" d="M792.23,1379.0 V1366.0 M792.23,52.0 V65.0"/>
<path stroke-width="5.4" d="M811.38,1379.0 V1366.0 M811.38,52.0 V65.0"/>
<path stroke-width="5.4" d="M830.53,1379.0 V1353.0 M830.53,52.0 V78.0"/>
<path stroke-width="5.4" d="M849.69,1379.0 V1366.0 M849.69,52.0 V65.0"/>
<path stroke-width="5.4" d="M868.84,1379.0 V1366.0 M868.84,52.0 V65.0"/>
<path stroke-width="5.4" d="M887.99,1379.0 V1366.0 M887.99,52.0 V65.0"/>
<path stroke-width="5.4" d="M907.14,1379.0 V1366.0 M907.14,52.0 V65.0"/>
<path stroke-width="5.4" d="M926.29,1379.0 V1366.0 M926.29,52.0 V65.0"/>
<path stroke-width="5.4" d="M945.44,1379.0 V1366.0 M945.44,52.0 V65.0"/>
<path stroke-width="5.4" d="M964.59,1379.0 V1366.0 M964.59,52.0 V65.0"/>
<path stroke-width="5.4" d="M983.74,1379.0 V1366.0 M983.74,52.0 V65.0"/>
<path stroke-width="5.4" d="M1002.90,1379.0 V1366.0 M1002.90,52.0 V65.0"/>
<path stroke-width="5.4" d="M1022.05,1379.0 V1353.0 M1022.05,52.0 V78.0"/>
<path stroke-width="5.4" d="M1041.20,1379.0 V1366.0 M1041.20,52.0 V65.0"/>
<path stroke-width="5.4" d="M1060.35,1379.0 V1366.0 M1060.35,52.0 V65.0"/>
<path stroke-width="5.4" d="M1079.50,1379.0 V1366.0 M1079.50,52.0 V65.0"/>
<path stroke-width="5.4" d="M1098.65,1379.0 V1366.0 M1098.65,52.0 V65.0"/>
<path stroke-width="5.4" d="M1117.80,1379.0 V1366.0 M1117.80,52.0 V65.0"/>
<path stroke-width="5.4" d="M1136.95,1379.0 V1366.0 M1136.95,52.0 V65.0"/>
<path stroke-width="5.4" d="M1156.10,1379.0 V1366.0 M1156.10,52.0 V65.0"/>
<path stroke-width="5.4" d="M1175.26,1379.0 V1366.0 M1175.26,52.0 V65.0"/>
<path stroke-width="5.4" d="M1194.41,1379.0 V1366.0 M1194.41,52.0 V65.0"/>
<path stroke-width="5.4" d="M1213.56,1379.0 V1353.0 M1213.56,52.0 V78.0"/>
<path stroke-width="5.4" d="M1232.71,1379.0 V1366.0 M1232.71,52.0 V65.0"/>
<path stroke-width="5.4" d="M1251.86,1379.0 V1366.0 M1251.86,52.0 V65.0"/>
<path stroke-width="5.4" d="M1271.01,1379.0 V1366.0 M1271.01,52.0 V65.0"/>
<path stroke-width="5.4" d="M1290.16,1379.0 V1366.0 M1290.16,52.0 V65.0"/>
<path stroke-width="5.4" d="M1309.31,1379.0 V1366.0 M1309.31,52.0 V65.0"/>
<path stroke-width="5.4" d="M1328.47,1379.0 V1366.0 M1328.47,52.0 V65.0"/>
<path stroke-width="5.4" d="M1347.62,1379.0 V1366.0 M1347.62,52.0 V65.0"/>
<path stroke-width="5.4" d="M1366.77,1379.0 V1366.0 M1366.77,52.0 V65.0"/>
<path stroke-width="5.4" d="M1385.92,1379.0 V1366.0 M1385.92,52.0 V65.0"/>
<path stroke-width="5.4" d="M1405.07,1379.0 V1353.0 M1405.07,52.0 V78.0"/>
<path stroke-width="5.4" d="M1424.22,1379.0 V1366.0 M1424.22,52.0 V65.0"/>
<path stroke-width="5.4" d="M1443.37,1379.0 V1366.0 M1443.37,52.0 V65.0"/>
<path stroke-width="5.4" d="M1462.52,1379.0 V1366.0 M1462.52,52.0 V65.0"/>
<path stroke-width="5.4" d="M1481.67,1379.0 V1366.0 M1481.67,52.0 V65.0"/>
<path stroke-width="5.4" d="M1500.83,1379.0 V1366.0 M1500.83,52.0 V65.0"/>
<path stroke-width="5.4" d="M1519.98,1379.0 V1366.0 M1519.98,52.0 V65.0"/>
<path stroke-width="5.4" d="M1539.13,1379.0 V1366.0 M1539.13,52.0 V65.0"/>
<path stroke-width="5.4" d="M1558.28,1379.0 V1366.0 M1558.28,52.0 V65.0"/>
<path stroke-width="5.4" d="M1577.43,1379.0 V1366.0 M1577.43,52.0 V65.0"/>
<path stroke-width="5.4" d="M1596.58,1379.0 V1353.0 M1596.58,52.0 V78.0"/>
<path stroke-width="5.4" d="M1615.73,1379.0 V1366.0 M1615.73,52.0 V65.0"/>
<path stroke-width="5.4" d="M1634.88,1379.0 V1366.0 M1634.88,52.0 V65.0"/>
<path stroke-width="5.4" d="M1654.03,1379.0 V1366.0 M1654.03,52.0 V65.0"/>
<path stroke-width="5.4" d="M1673.19,1379.0 V1366.0 M1673.19,52.0 V65.0"/>
<path stroke-width="5.4" d="M1692.34,1379.0 V1366.0 M1692.34,52.0 V65.0"/>
<path stroke-width="5.4" d="M1711.49,1379.0 V1366.0 M1711.49,52.0 V65.0"/>
<path stroke-width="5.4" d="M1730.64,1379.0 V1366.0 M1730.64,52.0 V65.0"/>
<path stroke-width="5.4" d="M1749.79,1379.0 V1366.0 M1749.79,52.0 V65.0"/>
<path stroke-width="5.4" d="M1768.94,1379.0 V1366.0 M1768.94,52.0 V65.0"/>
<path stroke-width="5.4" d="M1788.09,1379.0 V1353.0 M1788.09,52.0 V78.0"/>
<path stroke-width="5.4" d="M1807.24,1379.0 V1366.0 M1807.24,52.0 V65.0"/>
<path stroke-width="5.4" d="M1826.40,1379.0 V1366.0 M1826.40,52.0 V65.0"/>
<path stroke-width="5.4" d="M1845.55,1379.0 V1366.0 M1845.55,52.0 V65.0"/>
<path stroke-width="5.4" d="M1864.70,1379.0 V1366.0 M1864.70,52.0 V65.0"/>
<path stroke-width="5.4" d="M1883.85,1379.0 V1366.0 M1883.85,52.0 V65.0"/>
<path stroke-width="5.4" d="M256.0,1356.12 H269.0 M1903.0,1356.12 H1890.0"/>
<path stroke-width="5.4" d="M256.0,1333.24 H269.0 M1903.0,1333.24 H1890.0"/>
<path stroke-width="5.4" d="M256.0,1310.36 H269.0 M1903.0,1310.36 H1890.0"/>
<path stroke-width="5.4" d="M256.0,1287.48 H269.0 M1903.0,1287.48 H1890.0"/>
<path stroke-width="5.4" d="M256.0,1264.60 H269.0 M1903.0,1264.60 H1890.0"/>
<path stroke-width="5.4" d="M256.0,1241.72 H269.0 M1903.0,1241.72 H1890.0"/>
<path stroke-width="5.4" d="M256.0,1218.84 H269.0 M1903.0,1218.84 H1890.0"/>
<path stroke-width="5.4" d="M256.0,1195.97 H269.0 M1903.0,1195.97 H1890.0"/>
<path stroke-width="5.4" d="M256.0,1173.09 H282.0 M1903.0,1173.09 H1877.0"/>
<path stroke-width="5.4" d="M256.0,1150.21 H269.0 M1903.0,1150.21 H1890.0"/>
<path stroke-width="5.4" d="M256.0,1127.33 H269.0 M1903.0,1127.33 H1890.0"/>
<path stroke-width="5.4" d="M256.0,1104.45 H269.0 M1903.0,1104.45 H1890.0"/>
<path stroke-width="5.4" d="M256.0,1081.57 H269.0 M1903.0,1081.57 H1890.0"/>
<path stroke-width="5.4" d="M256.0,1058.69 H269.0 M1903.0,1058.69 H1890.0"/>
<path stroke-width="5.4" d="M256.0,1035.81 H269.0 M1903.0,1035.81 H1890.0"/>
<path stroke-width="5.4" d="M256.0,1012.93 H269.0 M1903.0,1012.93 H1890.0"/>
<path stroke-width="5.4" d="M256.0,990.05 H269.0 M1903.0,990.05 H1890.0"/>
<path stroke-width="5.4" d="M256.0,967.17 H269.0 M1903.0,967.17 H1890.0"/>
<path stroke-width="5.4" d="M256.0,944.29 H282.0 M1903.0,944.29 H1877.0"/>
<path stroke-width="5.4" d="M256.0,921.41 H269.0 M1903.0,921.41 H1890.0"/>
<path stroke-width="5.4" d="M256.0,898.53 H269.0 M1903.0,898.53 H1890.0"/>
<path stroke-width="5.4" d="M256.0,875.66 H269.0 M1903.0,875.66 H1890.0"/>
<path stroke-width="5.4" d="M256.0,852.78 H269.0 M1903.0,852.78 H1890.0"/>
<path stroke-width="5.4" d="M256.0,829.90 H269.0 M1903.0,829.90 H1890.0"/>
<path stroke-width="5.4" d="M256.0,807.02 H269.0 M1903.0,807.02 H1890.0"/>
<path stroke-width="5.4" d="M256.0,784.14 H269.0 M1903.0,784.14 H1890.0"/>
<path stroke-width="5.4" d="M256.0,761.26 H269.0 M1903.0,761.26 H1890.0"/>
<path stroke-width="5.4" d="M256.0,738.38 H269.0 M1903.0,738.38 H1890.0"/>
<path stroke-width="5.4" d="M256.0,715.50 H282.0 M1903.0,715.50 H1877.0"/>
<path stroke-width="5.4" d="M256.0,692.62 H269.0 M1903.0,692.62 H1890.0"/>
<path stroke-width="5.4" d="M256.0,669.74 H269.0 M1903.0,669.74 H1890.0"/>
<path stroke-width="5.4" d="M256.0,646.86 H269.0 M1903.0,646.86 H1890.0"/>
<path stroke-width="5.4" d="M256.0,623.98 H269.0 M1903.0,623.98 H1890.0"/>
<path stroke-width="5.4" d="M256.0,601.10 H269.0 M1903.0,601.10 H1890.0"/>
<path stroke-width="5.4" d="M256.0,578.22 H269.0 M1903.0,578.22 H1890.0"/>
<path stroke-width="5.4" d="M256.0,555.34 H269.0 M1903.0,555.34 H1890.0"/>
<path stroke-width="5.4" d="M256.0,532.47 H269.0 M1903.0,532.47 H1890.0"/>
<path stroke-width="5.4" d="M256.0,509.59 H269.0 M1903.0,509.59 H1890.0"/>
<path stroke-width="5.4" d="M256.0,486.71 H282.0 M1903.0,486.71 H1877.0"/>
<path stroke-width="5.4" d="M256.0,463.83 H269.0 M1903.0,463.83 H1890.0"/>
<path stroke-width="5.4" d="M256.0,440.95 H269.0 M1903.0,440.95 H1890.0"/>
<path stroke-width="5.4" d="M256.0,418.07 H269.0 M1903.0,418.07 H1890.0"/>
<path stroke-width="5.4" d="M256.0,395.19 H269.0 M1903.0,395.19 H1890.0"/>
<path stroke-width="5.4" d="M256.0,372.31 H269.0 M1903.0,372.31 H1890.0"/>
<path stroke-width="5.4" d="M256.0,349.43 H269.0 M1903.0,349.43 H1890.0"/>
<path stroke-width="5.4" d="M256.0,326.55 H269.0 M1903.0,326.55 H1890.0"/>
<path stroke-width="5.4" d="M256.0,303.67 H269.0 M1903.0,303.67 H1890.0"/>
<path stroke-width="5.4" d="M256.0,280.79 H269.0 M1903.0,280.79 H1890.0"/>
<path stroke-width="5.4" d="M256.0,257.91 H282.0 M1903.0,257.91 H1877.0"/>
<path stroke-width="5.4" d="M256.0,235.03 H269.0 M1903.0,235.03 H1890.0"/>
<path stroke-width="5.4" d="M256.0,212.16 H269.0 M1903.0,212.16 H1890.0"/>
<path stroke-width="5.4" d="M256.0,189.28 H269.0 M1903.0,189.28 H1890.0"/>
<path stroke-width="5.4" d="M256.0,166.40 H269.0 M1903.0,166.40 H1890.0"/>
<path stroke-width="5.4" d="M256.0,143.52 H269.0 M1903.0,143.52 H1890.0"/>
<path stroke-width="5.4" d="M256.0,120.64 H269.0 M1903.0,120.64 H1890.0"/>
<path stroke-width="5.4" d="M256.0,97.76 H269.0 M1903.0,97.76 H1890.0"/>
<path stroke-width="5.4" d="M256.0,74.88 H269.0 M1903.0,74.88 H1890.0"/>
</g>
<rect x="256.0" y="52.0" width="1647.0" height="1327.0" fill="none" stroke="#000" stroke-width="6" shape-rendering="crispEdges"/>
<g fill="#000" stroke="none" shape-rendering="crispEdges">
<polygon points="542.71,430.37 564.72,495.83 568.70,494.49 546.69,429.03"/><polygon points="579.30,532.60 557.15,497.32 575.63,491.10"/>
<polygon points="959.61,421.61 974.13,451.89 977.91,450.08 963.39,419.79"/><polygon points="993.10,486.60 966.80,454.30 984.38,445.87"/>
<polygon points="1323.08,496.20 1350.94,536.04 1354.38,533.63 1326.52,493.80"/><polygon points="1375.30,567.20 1344.10,539.60 1360.08,528.42"/>
<polygon points="1467.75,625.71 1449.93,581.90 1446.04,583.48 1463.85,627.29"/><polygon points="1433.10,546.10 1457.39,579.94 1439.33,587.29"/>
<polygon points="1575.85,920.85 1661.78,939.83 1662.68,935.73 1576.75,916.75"/><polygon points="1700.80,946.30 1659.15,947.09 1663.36,928.04"/>
</g>
<g filter="url(#bin)">
<text x="0" y="0" font-size="100" transform="translate(141.46,274.02) scale(0.5601,0.5839)" stroke="#000" stroke-width="1.356" stroke-linejoin="round">300</text>
<text x="0" y="0" font-size="100" transform="translate(140.92,502.93) scale(0.5645,0.5810)" stroke="#000" stroke-width="1.356" stroke-linejoin="round">200</text>
<text x="0" y="0" font-size="100" transform="translate(143.53,732.22) scale(0.5468,0.5883)" stroke="#000" stroke-width="1.356" stroke-linejoin="round">100</text>
<text x="0" y="0" font-size="100" transform="translate(199.19,961.03) scale(0.5705,0.5825)" stroke="#000" stroke-width="1.356" stroke-linejoin="round">0</text>
<text x="0" y="0" font-size="100" transform="translate(108.07,1186.40) scale(0.6505,0.4833)" stroke="#000" stroke-width="1.356" stroke-linejoin="round">−</text>
<text x="0" y="0" font-size="100" transform="translate(142.47,1189.82) scale(0.5532,0.5839)" stroke="#000" stroke-width="1.356" stroke-linejoin="round">100</text>
<text x="0" y="0" font-size="100" transform="translate(241.11,1449.93) scale(0.5977,0.5781)" stroke="#000" stroke-width="1.356" stroke-linejoin="round">0</text>
<text x="0" y="0" font-size="100" transform="translate(403.78,1449.93) scale(0.5634,0.5781)" stroke="#000" stroke-width="1.356" stroke-linejoin="round">500</text>
<text x="0" y="0" font-size="100" transform="translate(584.03,1449.93) scale(0.5460,0.5781)" stroke="#000" stroke-width="1.356" stroke-linejoin="round">1000</text>
<text x="0" y="0" font-size="100" transform="translate(775.56,1449.93) scale(0.5550,0.5781)" stroke="#000" stroke-width="1.356" stroke-linejoin="round">1500</text>
<text x="0" y="0" font-size="100" transform="translate(964.72,1449.93) scale(0.5669,0.5781)" stroke="#000" stroke-width="1.356" stroke-linejoin="round">2000</text>
<text x="0" y="0" font-size="100" transform="translate(1156.72,1449.93) scale(0.5669,0.5781)" stroke="#000" stroke-width="1.356" stroke-linejoin="round">2500</text>
<text x="0" y="0" font-size="100" transform="translate(1349.54,1449.93) scale(0.5658,0.5781)" stroke="#000" stroke-width="1.356" stroke-linejoin="round">3000</text>
<text x="0" y="0" font-size="100" transform="translate(1541.55,1449.93) scale(0.5632,0.5781)" stroke="#000" stroke-width="1.356" stroke-linejoin="round">3500</text>
<text x="0" y="0" font-size="100" transform="translate(1732.86,1449.93) scale(0.5627,0.5781)" stroke="#000" stroke-width="1.356" stroke-linejoin="round">4000</text>
<text x="0" y="0" font-size="100" transform="translate(864.13,1556.79) scale(0.6694,0.6776)" stroke="#000" stroke-width="1.143" stroke-linejoin="round">Frequency (Hz)</text>
<text x="0" y="0" font-size="100" transform="translate(81.81,839.88) rotate(-90) scale(0.6711,0.6815)" stroke="#000" stroke-width="1.143" stroke-linejoin="round">Phase (°)</text>
<text x="0" y="0" font-size="100" transform="translate(473.10,405.76) scale(0.6674,0.6919)" stroke="#000" stroke-width="1.143" stroke-linejoin="round">m=5</text>
<text x="0" y="0" font-size="100" transform="translate(895.99,404.35) scale(0.6722,0.6970)" stroke="#000" stroke-width="1.143" stroke-linejoin="round">m=4</text>
<text x="0" y="0" font-size="100" transform="translate(1208.81,479.65) scale(0.6607,0.7000)" stroke="#000" stroke-width="1.143" stroke-linejoin="round">m=3</text>
<text x="0" y="0" font-size="100" transform="translate(1459.78,676.65) scale(0.6823,0.7015)" stroke="#000" stroke-width="1.143" stroke-linejoin="round">m=2</text>
<text x="0" y="0" font-size="100" transform="translate(1438.32,923.35) scale(0.6531,0.6970)" stroke="#000" stroke-width="1.143" stroke-linejoin="round">m=1</text>
<text x="0" y="0" font-size="100" transform="translate(1017.05,891.73) scale(0.5685,0.5809)" stroke="#000" stroke-width="1.356" stroke-linejoin="round">45Hz</text>
<text x="0" y="0" font-size="100" transform="translate(1002.33,1096.63) scale(0.5558,0.5794)" stroke="#000" stroke-width="1.356" stroke-linejoin="round">-45Hz</text>
</g>
</svg></body></html>
